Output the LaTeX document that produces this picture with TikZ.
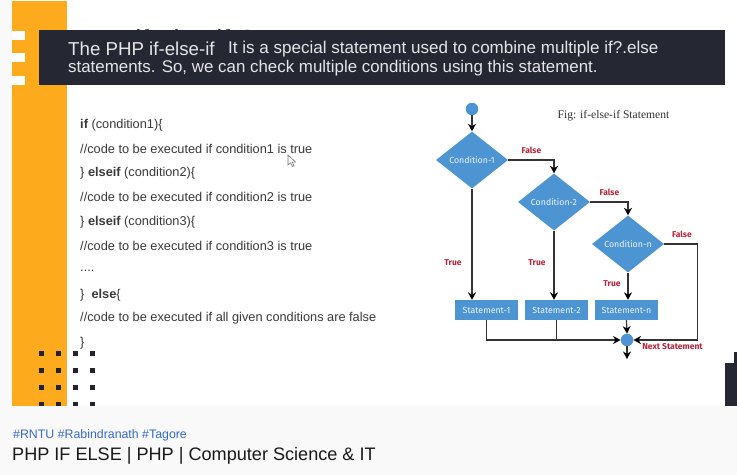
\documentclass[tikz,border=0pt]{standalone}
\usepackage{fontspec}
\setmainfont{Liberation Sans}
\newfontfamily\figfont{Liberation Serif}
\newfontfamily\flowfont{Fira Sans}
\usetikzlibrary{shapes.geometric,arrows.meta}
\definecolor{barink}{HTML}{252833}
\definecolor{orangeband}{HTML}{FDAB1C}
\definecolor{flowblue}{HTML}{4D94D2}
\definecolor{flowred}{HTML}{B8243C}
\definecolor{codeink}{HTML}{3A3A3A}
\definecolor{pagegrey}{HTML}{F9F9F9}
\definecolor{tagblue}{HTML}{3568D4}
\tikzset{
  cond/.style={diamond,fill=flowblue,text=white!90!flowblue,minimum width=72pt,minimum height=57pt,inner sep=0pt,font=\flowfont\fontsize{8.8}{10}\selectfont},
  stmt/.style={rectangle,fill=flowblue,text=white!90!flowblue,minimum width=63pt,minimum height=20pt,inner sep=0pt,font=\flowfont\fontsize{8.8}{10}\selectfont},
  dotnode/.style={circle,fill=flowblue,minimum size=12.5pt,inner sep=0pt},
  flow/.style={draw=black!80,line width=1.2pt,-{Stealth[length=7.5pt,width=8pt,color=black]}},
  plainflow/.style={draw=black!80,line width=1.2pt},
  lab/.style={text=flowred,font=\flowfont\bfseries\fontsize{8.5}{10}\selectfont,inner sep=0pt},
  code/.style={anchor=west,text=codeink,inner sep=0pt,font=\fontsize{12.77}{14}\selectfont},
  bartext/.style={anchor=west,text=white!88!barink,inner sep=0pt,font=\fontsize{16.9}{18}\selectfont},
  dotsq/.style={fill=barink!90!black}
}
\begin{document}
\begin{tikzpicture}[x=1pt,y=-1pt]
\useasboundingbox (0,0) rectangle (737,475);
\fill[white] (0,0) rectangle (737,475);
\fill[pagegrey] (0,0) rectangle (12,406);
\fill[orangeband] (12,1) rectangle (67,406);
\foreach \y in {31,53,76}{\fill[white] (12,\y) rectangle (25,\y+9);}
% title hidden behind the bar
\node[anchor=west,text=barink,inner sep=0pt,font=\fontsize{27.5}{30}\selectfont] (hiddentitle) at (71,40) {PHP if-else if Statement};
\fill[barink] (39,30) rectangle (725,85);
\node[bartext,font=\fontsize{18.7}{20}\selectfont] (bar1a) at (68,49) {The PHP if-else-if};
\node[bartext,font=\fontsize{17.05}{18}\selectfont] (bar1b) at (228,49.5) {It is a special statement used to combine multiple if?.else};
\node[bartext] (bar2) at (68,68.5) {statements. So, we can check multiple conditions using this statement.};
% code
\node[code] (l1) at (80,125) {\textbf{if} (condition1)\{};
\node[code] (l2) at (80,149) {//code to be executed if condition1 is true};
\node[code] (l3) at (80,173) {\} \textbf{elseif} (condition2)\{};
\node[code] (l4) at (80,197) {//code to be executed if condition2 is true};
\node[code] (l5) at (80,222) {\} \textbf{elseif} (condition3)\{};
\node[code] (l6) at (80,246) {//code to be executed if condition3 is true};
\node[code] (l7) at (80,271) {....};
\node[code] (l8) at (80,295) {\}\ \ \textbf{else}\{};
\node[code] (l9) at (80,318) {//code to be executed if all given conditions are false};
\node[code] (l10) at (80,343) {\}};
% mouse cursor
\draw[black!55,fill=white,line width=0.6pt] (288,155) -- (288,165) -- (290.5,162.8) -- (292.5,166.5) -- (294,165.7) -- (292.2,162.2) -- (295.5,162) -- cycle;
% dots
\foreach \x in {41,58,75,92}\foreach \y in {353,370,387,404}{\fill[dotsq] (\x-2.5,\y-2.5) rectangle (\x+2.5,\y+2.5);}
% flowchart
\node[dotnode] (start) at (472,109) {};
\node[cond] (c1) at (472,160) {Condition-1};
\node[cond] (c2) at (554,202) {Condition-2};
\node[cond] (c3) at (628,244) {Condition-n};
\node[stmt] (s1) at (486.5,310) {Statement-1};
\node[stmt] (s2) at (556.5,310) {Statement-2};
\node[stmt] (s3) at (626.5,310) {Statement-n};
\node[dotnode] (join) at (627,340) {};
\coordinate (out) at (627,359);
\draw[flow] (start) -- (c1.north);
\draw[flow] (c1.east) -| (c2.north);
\draw[flow] (c2.east) -| (c3.north);
\draw[flow] (c1.south) -- (c1.south |- s1.north);
\draw[flow] (c2.south) -- (c2.south |- s2.north);
\draw[flow] (c3.south) -- (c3.south |- s3.north);
\draw[flow] (s3.south) -- (join.north);
\draw[flow] (s1.south) |- (join.west);
\draw[plainflow] (s2.south) -- (s2.south |- join.west);
\draw[flow] (c3.east) -- ++(33,0) |- (join.east);
\draw[flow] (join.south) -- (out);
% flow labels
\node[lab] (f1) at (531.5,150) {False};
\node[lab] (f2) at (609.5,192) {False};
\node[lab] (f3) at (682,234) {False};
\node[lab] (t1) at (453,263) {True};
\node[lab] (t2) at (537,263) {True};
\node[lab] (t3) at (612,283.5) {True};
\node[lab] (next) at (672.5,347) {Next Statement};
\node[inner sep=0pt,text=black!80,font=\figfont\fontsize{11.6}{13}\selectfont] (fig) at (613.5,116) {Fig: if-else-if Statement};
% lower right block and bottom band
\fill[barink] (725,363) rectangle (737,406);
\fill[barink] (734,352) rectangle (737,363);
\fill[pagegrey] (0,406) rectangle (737,475);
\node[anchor=west,inner sep=0pt,text=tagblue,font=\fontsize{12.35}{14}\selectfont] (tags) at (13,435) {\#RNTU \#Rabindranath \#Tagore};
\node[anchor=west,inner sep=0pt,text=black!90,font=\fontsize{18.1}{20}\selectfont] (title) at (12,456) {PHP IF ELSE | PHP | Computer Science \& IT};
\end{tikzpicture}
\end{document}
